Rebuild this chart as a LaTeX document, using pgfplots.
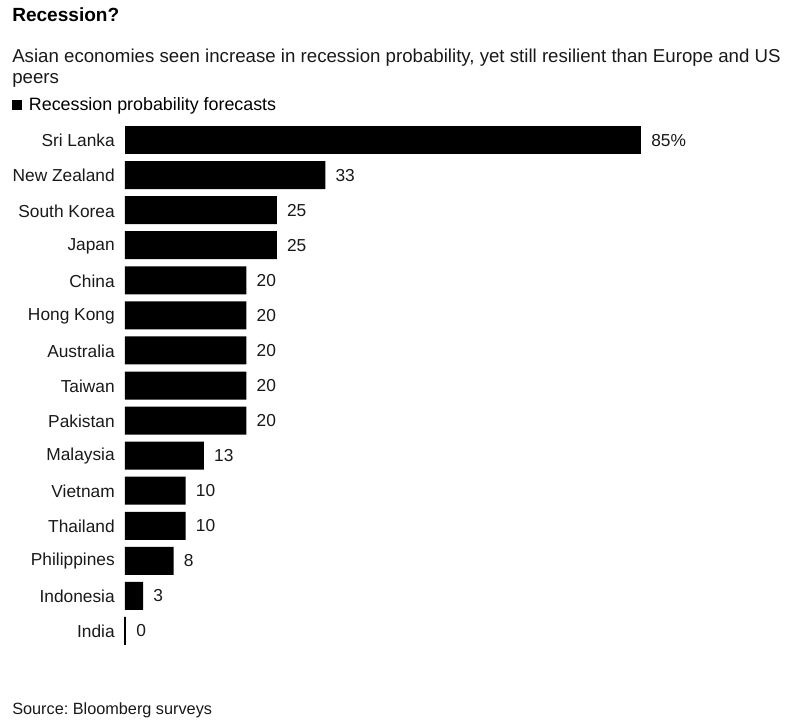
\documentclass[border=0pt]{standalone}
\usepackage{fontspec}
\setmainfont{Liberation Sans}
\usepackage{pgfplots}
\pgfplotsset{compat=1.18}
\frenchspacing
\begin{document}
\begin{tikzpicture}[x=1pt,y=1pt]
\path (0,0) rectangle (600,-540);
\begin{axis}[
  at={(93.75pt,-91.875pt)}, anchor=north west,
  scale only axis, width=387pt, height=394.5pt,
  xmin=0, xmax=85, ymin=-0.5, ymax=14.5, y dir=reverse,
  axis line style={draw=none},
  xtick=\empty,
  ytick={0,...,14},
  yticklabels={Sri Lanka,New Zealand,South Korea,Japan,China,Hong Kong,Australia,Taiwan,Pakistan,Malaysia,Vietnam,Thailand,Philippines,Indonesia,India},
  major tick length=0pt,
  /pgf/number format/assume math mode=true,
  yticklabel style={font=\fontsize{13}{15}\selectfont, text=black!90, inner sep=0pt, xshift=-7.5pt, yshift=-0.5pt},
  xbar, bar width=21pt, bar shift=0pt,
  nodes near coords,
  nodes near coords style={font=\fontsize{13}{15}\selectfont, text=black!90, anchor=west, inner sep=0pt, xshift=7.5pt},
  clip=false,
  legend style={at={(-0.219,1.0333)}, anchor=west, draw=none, fill=none, inner sep=0pt,
    font=\fontsize{13.4}{15}\selectfont, nodes={inner xsep=0pt, inner ysep=1pt}},
  legend image code/.code={\fill[black] (0pt,-3.75pt) rectangle (7.5pt,3.75pt); \path (12.5pt,0pt);},
]
\addplot[fill=black, draw=none] coordinates {
(33,1) (25,2) (25,3) (20,4) (20,5) (20,6) (20,7) (20,8) (13,9) (10,10) (10,11) (8,12) (3,13)};
\addlegendentry{Recession probability forecasts}
\addplot[fill=black, draw=none, forget plot,
  nodes near coords={\pgfmathprintnumber{\pgfplotspointmeta}\%}] coordinates {(85,0)};
\addplot[fill=black, draw=black, line width=2pt, forget plot] coordinates {(0,14)};
\end{axis}
\node[anchor=base west, inner sep=0pt, font=\fontsize{14.3}{16}\selectfont\bfseries] at (9,-16.5) {Recession?};
\node[anchor=base west, inner sep=0pt, font=\fontsize{14}{16}\selectfont, text=black!90] at (9,-47) {Asian economies seen increase in recession probability, yet still resilient than Europe and US};
\node[anchor=base west, inner sep=0pt, font=\fontsize{14}{16}\selectfont, text=black!90] at (9,-63) {peers};
\node[anchor=base west, inner sep=0pt, font=\fontsize{12.2}{14}\selectfont, text=black!90] at (9,-536) {Source: Bloomberg surveys};
\end{tikzpicture}
\end{document}
